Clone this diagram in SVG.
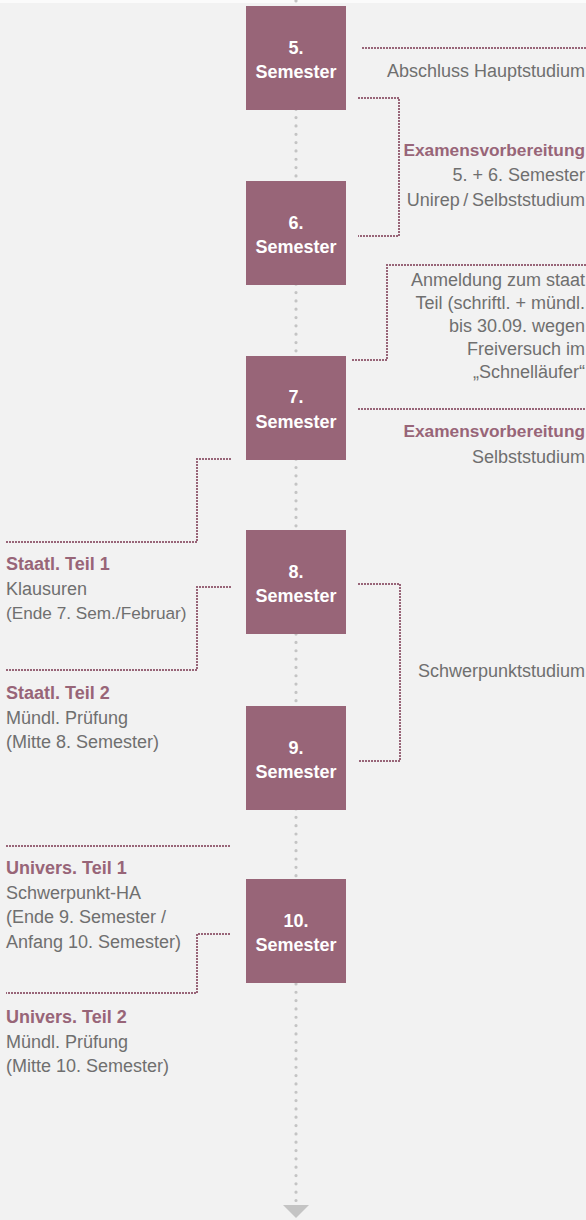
<svg xmlns="http://www.w3.org/2000/svg" width="586" height="1220" viewBox="0 0 586 1220">
<style>
.box{fill:#986578}
.bt{font-family:"Liberation Sans",Arial,sans-serif;font-size:18px;font-weight:bold;fill:#ffffff;text-anchor:middle}
.t{font-family:"Liberation Sans",Arial,sans-serif;font-size:18px;fill:#6f6f6f}
.h{font-family:"Liberation Sans",Arial,sans-serif;font-size:18px;font-weight:bold;fill:#986578}
.r{text-anchor:end}
.s{font-size:17.3px}
.dp{fill:none;stroke:#986578;stroke-width:2;stroke-dasharray:2 1}
.axis{fill:none;stroke:#c4c4c4;stroke-width:3.2;stroke-linecap:round;stroke-dasharray:0 8.33}
</style>
<rect x="0" y="0" width="586" height="1220" fill="#f2f2f2"/>
<rect x="0" y="0" width="586" height="3" fill="#fbfbfb"/>
<g id="connectors">
<path class="axis" d="M296 1 V1202"/>
<polygon points="283,1205 309,1205 296,1218" fill="#c4c4c4"/>
<path class="dp" d="M362 48 H586"/>
<path class="dp" d="M358 98 H399 V236 H358"/>
<path class="dp" d="M352 360 H387 V265 H586"/>
<path class="dp" d="M358 409 H586"/>
<path class="dp" d="M231 459 H197 V542 H6"/>
<path class="dp" d="M231 587 H197 V670 H6"/>
<path class="dp" d="M358 584 H400 V761 H358"/>
<path class="dp" d="M6 846 H230"/>
<path class="dp" d="M230 934 H197 V993 H6"/>
</g>
<g id="sem5"><rect class="box" x="246" y="6" width="100" height="104"/><text class="bt" x="296" y="54">5.</text><text class="bt" x="296" y="78">Semester</text></g>
<g id="sem6"><rect class="box" x="246" y="181" width="100" height="104"/><text class="bt" x="296" y="229">6.</text><text class="bt" x="296" y="253">Semester</text></g>
<g id="sem7"><rect class="box" x="246" y="356" width="100" height="104"/><text class="bt" x="296" y="403">7.</text><text class="bt" x="296" y="428">Semester</text></g>
<g id="sem8"><rect class="box" x="246" y="530" width="100" height="104"/><text class="bt" x="296" y="578">8.</text><text class="bt" x="296" y="602">Semester</text></g>
<g id="sem9"><rect class="box" x="246" y="706" width="100" height="104"/><text class="bt" x="296" y="754">9.</text><text class="bt" x="296" y="778">Semester</text></g>
<g id="sem10"><rect class="box" x="246" y="879" width="100" height="104"/><text class="bt" x="296" y="927">10.</text><text class="bt" x="296" y="951">Semester</text></g>
<g id="abschluss"><text class="t r" x="585" y="77">Abschluss Hauptstudium</text></g>
<g id="examen1"><text class="h r s" x="585" y="156">Examensvorbereitung</text><text class="t r" x="585" y="181">5. + 6. Semester</text><text class="t r" x="585" y="206">Unirep&#8201;/&#8201;Selbststudium</text></g>
<g id="anmeldung">
<text class="t r" x="585" y="286">Anmeldung zum staat</text>
<text class="t r" x="585" y="309">Teil (schriftl. + mündl.</text>
<text class="t r" x="585" y="332">bis 30.09. wegen</text>
<text class="t r" x="585" y="355">Freiversuch im</text>
<text class="t r" x="585" y="378">„Schnelläufer“</text>
</g>
<g id="examen2"><text class="h r s" x="585" y="437">Examensvorbereitung</text><text class="t r" x="585" y="463">Selbststudium</text></g>
<g id="schwerpunkt"><text class="t r" x="585" y="677">Schwerpunktstudium</text></g>
<g id="staatl1"><text class="h" x="6" y="570">Staatl. Teil 1</text><text class="t" x="6" y="595">Klausuren</text><text class="t" x="6" y="619" style="font-size:17.2px">(Ende 7. Sem./Februar)</text></g>
<g id="staatl2"><text class="h" x="6" y="699">Staatl. Teil 2</text><text class="t" x="6" y="724">Mündl. Prüfung</text><text class="t" x="6" y="748">(Mitte 8. Semester)</text></g>
<g id="univ1"><text class="h" x="6" y="874">Univers. Teil 1</text><text class="t" x="6" y="899">Schwerpunkt-HA</text><text class="t" x="6" y="923">(Ende 9. Semester /</text><text class="t" x="6" y="948">Anfang 10. Semester)</text></g>
<g id="univ2"><text class="h" x="6" y="1023">Univers. Teil 2</text><text class="t" x="6" y="1048">Mündl. Prüfung</text><text class="t" x="6" y="1072">(Mitte 10. Semester)</text></g>
</svg>
